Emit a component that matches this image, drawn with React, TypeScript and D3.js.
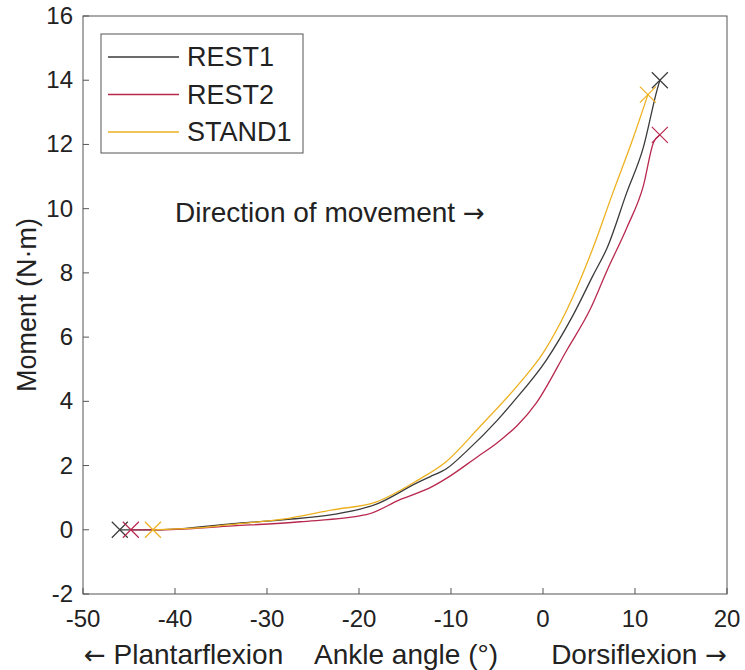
import React from "react";
import * as d3 from "d3";

const xTicks = [-50, -40, -30, -20, -10, 0, 10, 20];
const yTicks = [-2, 0, 2, 4, 6, 8, 10, 12, 14, 16];

const rest1X = [-46, -41.7, -33.7, -28.3, -22.9, -18.1, -13.7, -12.3, -10.5, -8.3, -5, -3.3, 0.4, 3.3, 5.4, 7.0, 9.1, 10.9, 12.4, 12.7];
const rest1Y = [0, 0, 0.19, 0.31, 0.47, 0.8, 1.46, 1.65, 1.9, 2.45, 3.4, 3.96, 5.3, 6.7, 7.9, 8.8, 10.5, 11.9, 13.7, 14.0];

const rest2X = [-44.8, -41.4, -33.7, -26.4, -19.2, -15.6, -12, -10.5, -7, -5, -0.7, 2.6, 5.1, 7.0, 9.1, 10.9, 12.0, 12.7];
const rest2Y = [0, 0, 0.12, 0.25, 0.47, 0.93, 1.35, 1.6, 2.3, 2.7, 3.96, 5.6, 6.85, 8.1, 9.4, 10.7, 12.05, 12.3];

const stand1X = [-42.4, -38, -33.7, -28.3, -22.9, -18.1, -13.7, -10.5, -6.9, -2.5, 0, 2.6, 5.4, 7.6, 9.8, 11.4];
const stand1Y = [0, 0.05, 0.17, 0.33, 0.62, 0.87, 1.53, 2.13, 3.2, 4.58, 5.5, 6.85, 8.75, 10.5, 12.2, 13.55];

const seriesNames = ["REST1", "REST2", "STAND1"];
const seriesColors = ["#3a3a3a", "#b8284e", "#edb120"];

const FONT = "'Liberation Sans', Arial, Helvetica, sans-serif";
const ARROW_FONT = "'DejaVu Sans', sans-serif";

export default function App() {
  const W = 745, H = 670;
  const left = 83, right = 727, top = 16, bottom = 594;
  const x = d3.scaleLinear().domain([-50, 20]).range([left, right]);
  const y = d3.scaleLinear().domain([-2, 16]).range([bottom, top]);

  const series = [
    { xs: rest1X, ys: rest1Y },
    { xs: rest2X, ys: rest2Y },
    { xs: stand1X, ys: stand1Y },
  ];

  const line = d3
    .line<[number, number]>()
    .x((d) => x(d[0]))
    .y((d) => y(d[1]))
    .curve(d3.curveMonotoneX);

  const axisColor = "#555";
  const m = 8;

  const cross = (cx: number, cy: number, color: string, key: string) => (
    <path
      key={key}
      d={`M${cx - m},${cy - m}L${cx + m},${cy + m}M${cx - m},${cy + m}L${cx + m},${cy - m}`}
      stroke={color}
      strokeWidth={1.2}
      fill="none"
    />
  );

  return (
    <svg width={W} height={H} style={{ position: "absolute", left: 0, top: 0, background: "#fff" }} fontFamily={FONT}>
      <rect x={0} y={0} width={W} height={H} fill="#fff" />
      {series.map((s, i) => {
        const pts = s.xs.map((v, j) => [v, s.ys[j]] as [number, number]);
        return <path key={i} d={line(pts) || ""} stroke={seriesColors[i]} strokeWidth={1.3} fill="none" />;
      })}
      {series.map((s, i) => {
        const n = s.xs.length - 1;
        return (
          <g key={"m" + i}>
            {cross(x(s.xs[0]), y(s.ys[0]), seriesColors[i], "s")}
            {cross(x(s.xs[n]), y(s.ys[n]), seriesColors[i], "e")}
          </g>
        );
      })}
      <rect x={left} y={top} width={right - left} height={bottom - top} fill="none" stroke={axisColor} strokeWidth={1} />
      {xTicks.map((t) => (
        <g key={"xt" + t}>
          <line x1={x(t)} x2={x(t)} y1={bottom} y2={bottom - 6} stroke={axisColor} />
          <text x={x(t)} y={627} textAnchor="middle" fontSize={24} fill="#222">
            {t}
          </text>
        </g>
      ))}
      {yTicks.map((t) => (
        <g key={"yt" + t}>
          <line x1={left} x2={left + 6} y1={y(t)} y2={y(t)} stroke={axisColor} />
          <text x={73} y={y(t) + 8} textAnchor="end" fontSize={24} fill="#222">
            {t}
          </text>
        </g>
      ))}
      <text x={84} y={664} fontSize={28} fill="#222">
        <tspan fontFamily={ARROW_FONT} fontSize={26}>←</tspan> Plantarflexion
      </text>
      <text x={406} y={664} textAnchor="middle" fontSize={28} fill="#222">Ankle angle (°)</text>
      <text x={727} y={664} textAnchor="end" fontSize={28} fill="#222">
        Dorsiflexion <tspan fontFamily={ARROW_FONT} fontSize={26}>→</tspan>
      </text>
      <text transform={`translate(36,${(top + bottom) / 2}) rotate(-90)`} textAnchor="middle" fontSize={27} fill="#222">
        Moment (N·m)
      </text>
      <text x={175} y={222} fontSize={28} fill="#222">
        Direction of movement <tspan fontFamily={ARROW_FONT} fontSize={26}>→</tspan>
      </text>
      <rect x={101} y={34} width={202} height={119} fill="#fff" stroke={axisColor} strokeWidth={1} />
      {seriesNames.map((name, i) => {
        const ly = 57 + i * 37.5;
        return (
          <g key={name}>
            <line x1={108} x2={179} y1={ly} y2={ly} stroke={seriesColors[i]} strokeWidth={1.3} />
            <text x={187} y={ly + 9} fontSize={27} fill="#222">
              {name}
            </text>
          </g>
        );
      })}
    </svg>
  );
}
